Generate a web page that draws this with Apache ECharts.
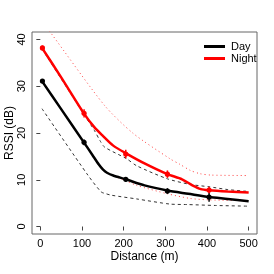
<!DOCTYPE html>
<html><head><meta charset="utf-8">
<script src="https://cdn.jsdelivr.net/npm/echarts@6/dist/echarts.min.js"></script>
<style>html,body{margin:0;padding:0;background:#fff}#c{width:274px;height:274px}</style>
</head><body><div id="c"></div>
<script>
// Tick labels
const xTicks = [0, 100, 200, 300, 400, 500];
const yTicks = [0, 10, 20, 30, 40];
// Measured points (mean) and error bar half-widths
const pointDist = [5, 105, 205, 305, 405];
const dayMean = [31.1, 18.0, 10.1, 7.6, 6.3];
const dayErr = [0.4, 0.6, 0.5, 0.6, 1.0];
const nightMean = [38.2, 24.2, 15.5, 11.2, 7.8];
const nightErr = [0.5, 0.9, 0.9, 0.8, 0.7];
// Fitted curves [distance, RSSI]
const dayCurve = [[4,31.1],[50,25.1],[104.5,18.0],[125,15.3],[140,13.3],[150,12.2],[160,11.5],[175,10.9],[205,10.1],[250,8.8],[305,7.7],[355,7.0],[405,6.3],[450,5.9],[500,5.4]];
const nightCurve = [[4,38.2],[50,31.9],[104.5,24.2],[130,21.2],[150,19.4],[175,17.3],[206.7,15.6],[250,13.5],[305,11.2],[340,10.1],[365,8.8],[385,8.0],[405,7.76],[450,7.5],[500,7.3]];
// Confidence bands
const dayUpper = [[4,38.0],[104.5,24.0],[130,20.5],[143,18.4],[154,17.0],[207,14.5],[231,13.0],[305,10.2],[360,9.0],[405,8.5],[450,7.9],[500,7.5]];
const dayLower = [[4,25.2],[114,11.0],[146,7.4],[158,7.0],[170,6.7],[231,5.9],[311,4.8],[352,4.7],[420,4.5],[500,4.35]];
const nightUpper = [[4,43.9],[26,41.3],[154,25.9],[223,19.9],[311,14.5],[335,13.3],[360,12.0],[383,11.3],[410,11.0],[500,10.9]];
const nightLower = [[4,31.0],[104.5,18.0],[145,12.9],[160,11.5],[205,9.8],[231,8.8],[305,7.0],[360,6.0],[405,5.7],[500,5.5]];

const font = "'Liberation Sans', Arial, sans-serif";
const chart = echarts.init(document.getElementById('c'), null, {renderer: 'canvas'});

function errSeries(name, means, errs, color) {
  return {
    name: name, type: 'custom', z: 5,
    data: pointDist.map((d, i) => [d, means[i] - errs[i], means[i] + errs[i], means[i]]),
    renderItem: function (params, api) {
      const lo = api.coord([api.value(0), api.value(1)]);
      const hi = api.coord([api.value(0), api.value(2)]);
      const m = api.coord([api.value(0), api.value(3)]);
      return {
        type: 'group', children: [
          {type: 'line', shape: {x1: lo[0], y1: lo[1], x2: hi[0], y2: hi[1]}, style: {stroke: color, lineWidth: 1.5}},
          {type: 'circle', shape: {cx: m[0], cy: m[1], r: 2.6}, style: {fill: color}}
        ]
      };
    }
  };
}

function curve(name, data, color, width, dash) {
  return {
    name: name, type: 'line', data: data, showSymbol: false, symbol: 'none',
    smooth: 0.25, clip: true,
    lineStyle: {color: color, width: width, type: dash || 'solid'},
    itemStyle: {color: color}
  };
}

chart.setOption({
  animation: false,
  textStyle: {fontFamily: font},
  grid: {left: 32, top: 32, right: 17, bottom: 40, show: true, borderColor: '#666', borderWidth: 1, containLabel: false, outerBoundsMode: 'none'},
  legend: {
    data: ['Day', 'Night'], orient: 'vertical', left: 199, top: 36,
    itemWidth: 21, itemHeight: 3, itemGap: 1, icon: 'rect',
    textStyle: {fontSize: 11, color: '#000', fontFamily: font, padding: [0, 0, 0, 1]}
  },
  xAxis: {
    type: 'value', min: -20, max: 520,
    name: 'Distance (m)', nameLocation: 'middle', nameGap: 17, nameMoveOverlap: false,
    nameTextStyle: {fontSize: 12, color: '#000', fontFamily: font},
    axisLine: {show: false}, splitLine: {show: false},
    axisTick: {show: true, length: 4, customValues: xTicks, lineStyle: {color: '#444'}},
    axisLabel: {customValues: xTicks, fontSize: 11, color: '#000', margin: 4, fontFamily: font}
  },
  yAxis: {
    type: 'value', min: -1.6, max: 41.6,
    name: 'RSSI (dB)', nameLocation: 'middle', nameGap: 16, nameRotate: 90, nameMoveOverlap: false,
    nameTextStyle: {fontSize: 12, color: '#000', fontFamily: font},
    axisLine: {show: false}, splitLine: {show: false},
    axisTick: {show: true, length: 4, customValues: yTicks, lineStyle: {color: '#444'}},
    axisLabel: {customValues: yTicks, fontSize: 11, color: '#000', margin: 5, rotate: 90, fontFamily: font}
  },
  series: [
    curve('dayUpper', dayUpper, '#333', 1, [3, 3]),
    curve('dayLower', dayLower, '#333', 1, [3, 3]),
    curve('nightUpper', nightUpper, '#ff4040', 1, [1, 3]),
    curve('nightLower', nightLower, '#ff4040', 1, [1, 3]),
    curve('Day', dayCurve, '#000', 2.5),
    curve('Night', nightCurve, '#ff0000', 2.5),
    errSeries('dayPts', dayMean, dayErr, '#000'),
    errSeries('nightPts', nightMean, nightErr, '#ff0000')
  ]
});
</script></body></html>
